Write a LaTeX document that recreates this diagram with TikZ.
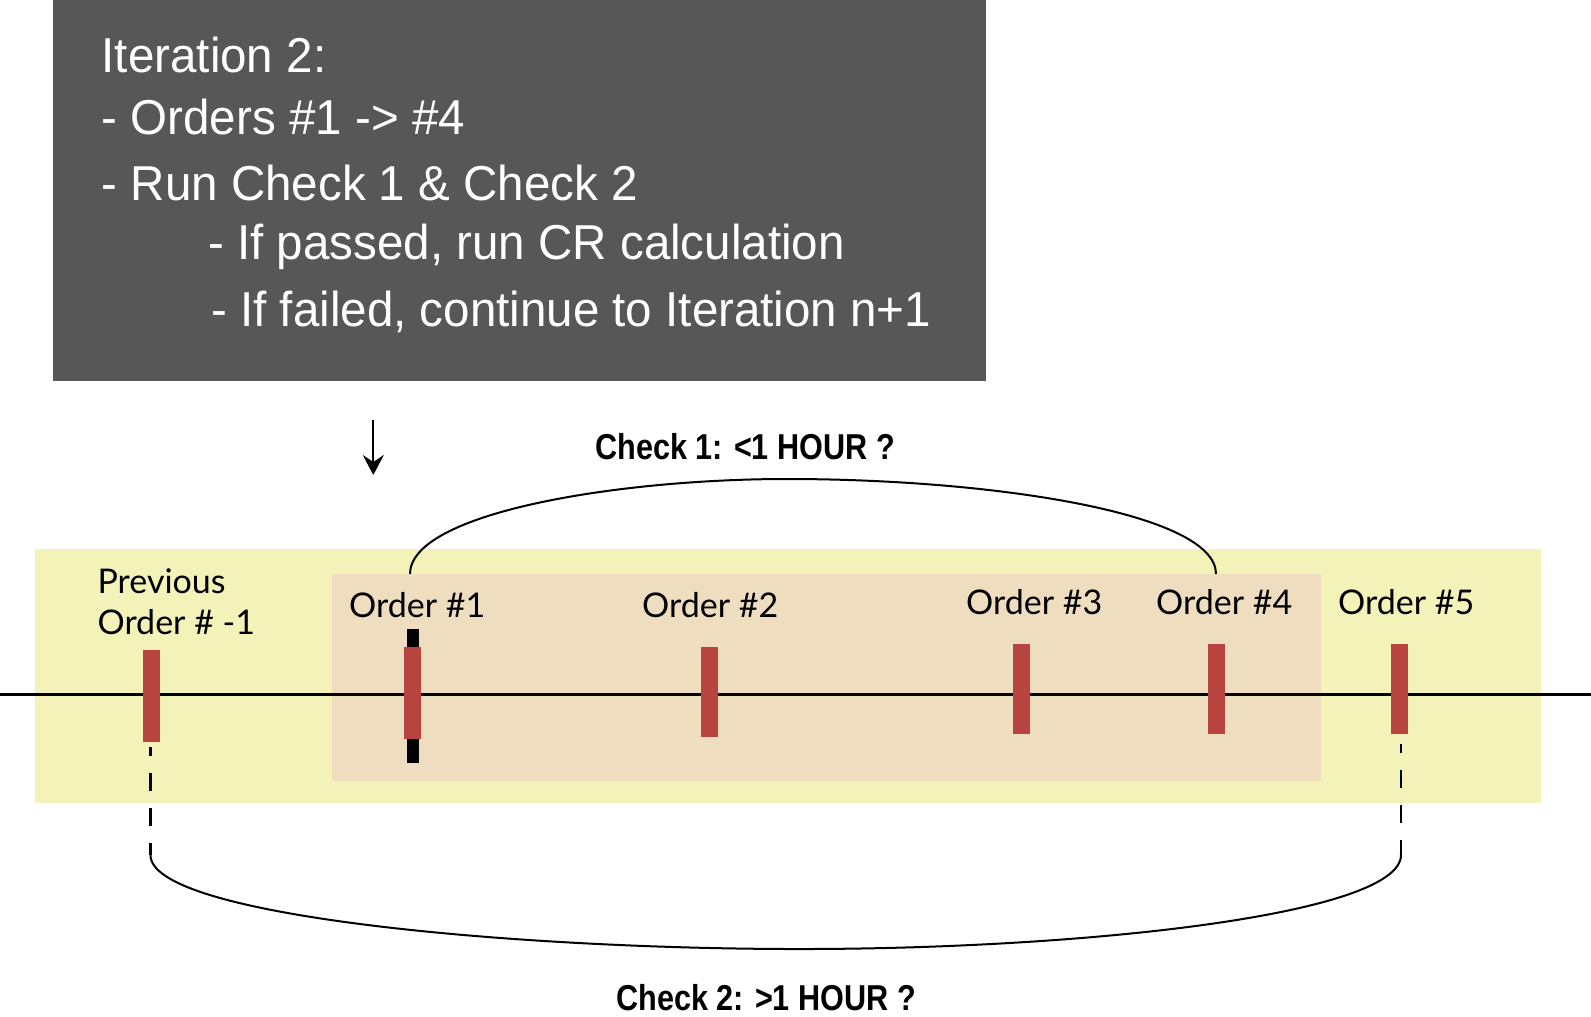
\documentclass[tikz,border=0pt]{standalone}
\usepackage{fontspec}
\setmainfont[FakeStretch=0.97]{Liberation Sans}
\newfontfamily\labfont{Lato}
\newfontfamily\chkfont[FakeStretch=0.85]{Liberation Sans}
\usetikzlibrary{arrows.meta}
\definecolor{darkbox}{HTML}{575757}
\definecolor{yellowbg}{HTML}{F3F2B9}
\definecolor{beigebg}{HTML}{EFDDC0}
\definecolor{barred}{HTML}{B84440}
\begin{document}
\begin{tikzpicture}[x=1pt,y=-1pt,
  barbox/.style={fill=barred, draw=none, inner sep=0pt, outer sep=0pt, minimum width=17pt},
  ordlab/.style={font=\labfont\fontsize{34}{41}\selectfont, anchor=base west, inner sep=0pt, align=left},
  chklab/.style={font=\chkfont\bfseries\fontsize{36}{40}\selectfont, anchor=base, inner sep=0pt},
  boxtxt/.style={font=\fontsize{49}{58}\selectfont, text=white, anchor=base west, inner sep=0pt},
  arcline/.style={line width=2pt},
  dashline/.style={line width=2.7pt, dash pattern=on 18pt off 17pt, dash phase=9pt}
]
\useasboundingbox (0,0) rectangle (1591,1017);
% backgrounds
\fill[darkbox] (52.8,0) rectangle (986,380.7);
\fill[yellowbg] (35.3,549) rectangle (1541,803);
\fill[beigebg] (332,573.5) rectangle (1321,781);
% box text
\node[boxtxt] (t1) at (101.5,72) {Iteration 2:};
\node[boxtxt] (t2) at (101.5,134.5) {- Orders \#1 -> \#4};
\node[boxtxt] (t3) at (101.5,200) {- Run Check 1 \& Check 2};
\node[boxtxt] (t4) at (208,259) {- If passed, run CR calculation};
\node[boxtxt] (t5) at (211,326.7) {- If failed, continue to Iteration n+1};
% arrow
\coordinate (atop) at (373.3,420);
\coordinate (atip) at (373.3,475);
\draw[line width=2pt, -{Stealth[length=20pt,width=21pt,inset=7pt]}] (atop) -- (atip);
% timeline
\coordinate (tlL) at (0,694);
\coordinate (tlR) at (1591,694);
\draw[line width=3pt] (tlL) -- (tlR);
% bars
\node[fill=black, inner sep=0pt, minimum width=12pt, minimum height=134pt] (b1k) at (413,696) {};
\node[barbox, minimum height=92pt] (b0) at (151.5,696) {};
\node[barbox, minimum height=92pt] (b1) at (412.5,693) {};
\node[barbox, minimum height=90pt] (b2) at (709.5,692) {};
\node[barbox, minimum height=90pt] (b3) at (1021.5,689) {};
\node[barbox, minimum height=90pt] (b4) at (1216,689) {};
\node[barbox, minimum height=90pt] (b5) at (1399.5,689) {};
% labels
\node[ordlab] (l0) at (97.4,634) {Previous\\Order \# -1};
\node[ordlab] (l1) at (349,617) {Order \#1};
\node[ordlab] (l2) at (642,617) {Order \#2};
\node[ordlab] (l3) at (966,614) {Order \#3};
\node[ordlab] (l4) at (1156,614) {Order \#4};
\node[ordlab] (l5) at (1338,614) {Order \#5};
% check 1 arc
\coordinate (c1a) at (410,574);
\coordinate (c1m) at (787,479);
\coordinate (c1b) at (1216,574);
\draw[arcline] (c1a) .. controls (410,513) and (617,479) .. (c1m)
  .. controls (992,479) and (1216,513) .. (c1b);
\node[chklab] (k1) at (745,459.3) {Check 1: <1 HOUR ?};
% check 2
\coordinate (d0a) at (150.5,747);
\coordinate (d0b) at (150.5,855);
\coordinate (d5a) at (1401,744);
\coordinate (d5b) at (1401,855);
\coordinate (c2m) at (787,949);
\draw[dashline] (d0a) -- (d0b);
\draw[dashline] (d5a) -- (d5b);
\draw[arcline] (d0b) .. controls (150,915) and (500,948) .. (c2m)
  .. controls (1080,950) and (1401,915) .. (d5b);
\node[chklab] (k2) at (766,1010) {Check 2: >1 HOUR ?};
\end{tikzpicture}
\end{document}
